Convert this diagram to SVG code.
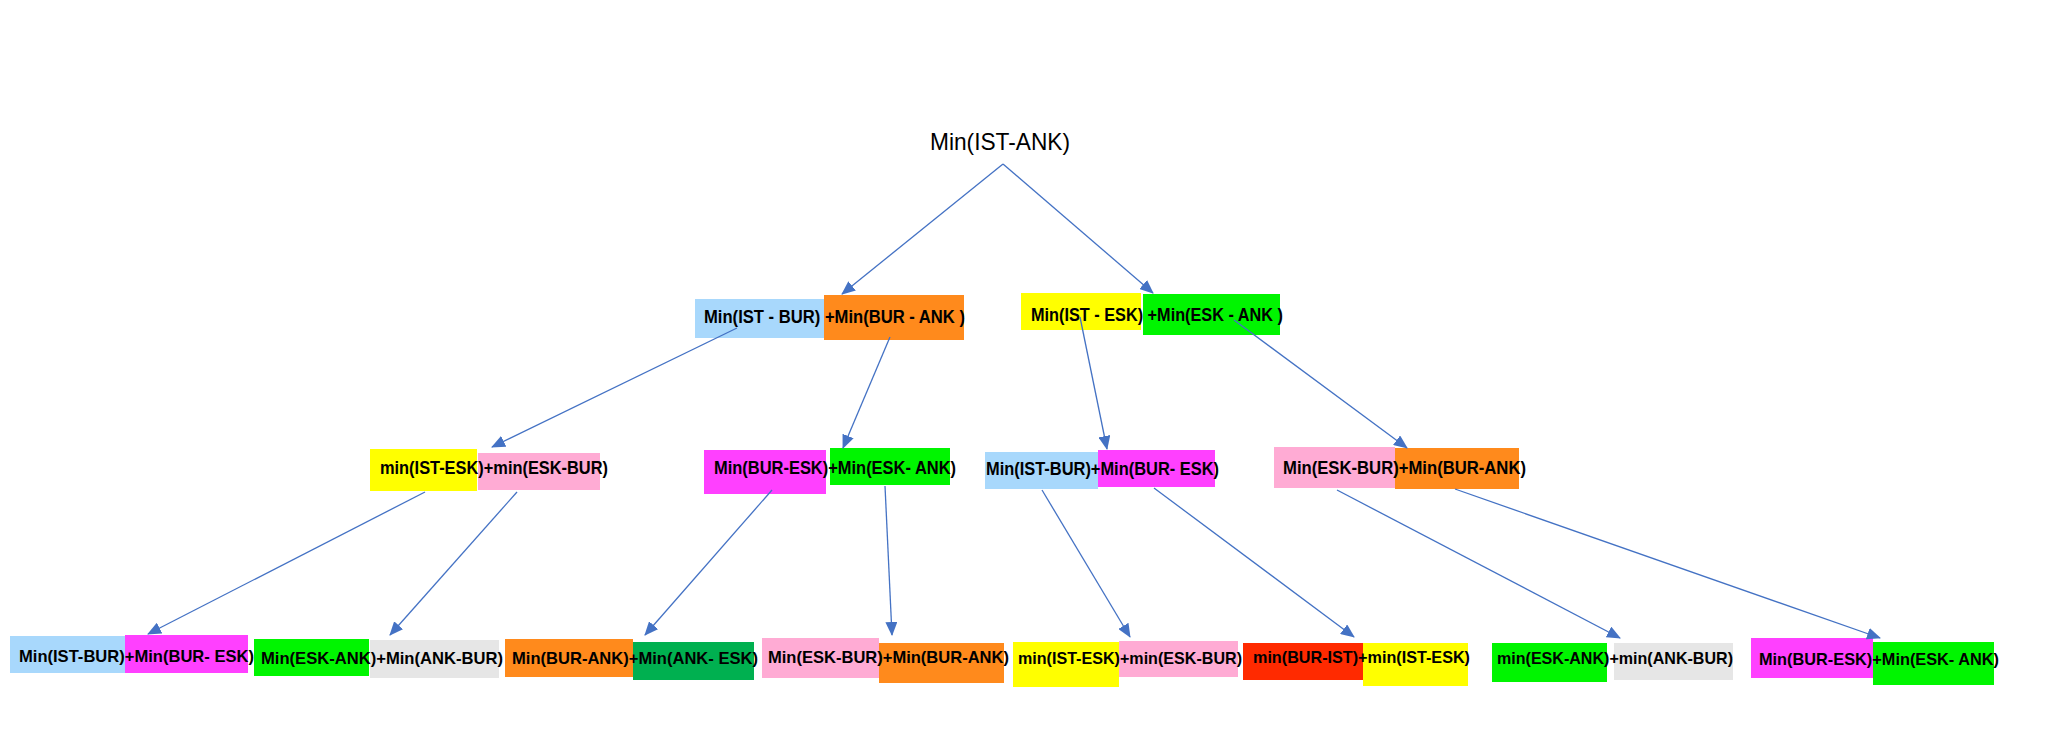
<svg xmlns="http://www.w3.org/2000/svg" width="2052" height="734" viewBox="0 0 2052 734">
<style>
.bg{fill:#ffffff}
.blue{fill:#A8D8FC}
.orange{fill:#FF8A1C}
.yellow{fill:#FFFF00}
.green{fill:#00F500}
.pink{fill:#FFABD4}
.magenta{fill:#FF40FF}
.gray{fill:#E6E6E6}
.dgreen{fill:#00B050}
.red{fill:#FF2A00}
.root{font-family:"Liberation Sans",Arial,sans-serif;font-size:24px;fill:#000}
.lbl{font-family:"Liberation Sans",Arial,sans-serif;font-weight:bold;font-size:18px;fill:#000}
.lbl3{font-family:"Liberation Sans",Arial,sans-serif;font-weight:bold;font-size:17px;fill:#000}
.edge{stroke:#4472C4;stroke-width:1.3;fill:none;marker-end:url(#arr)}
</style>
<defs>
<marker id="arr" markerUnits="userSpaceOnUse" markerWidth="14" markerHeight="12" refX="13" refY="6" orient="auto" viewBox="0 0 14 12">
<path d="M0,0 L14,6 L0,12 z" fill="#4472C4"/>
</marker>
</defs>
<rect class="bg" x="0" y="0" width="2052" height="734"/>

<g id="root">
<text class="root" x="930" y="150" textLength="140" lengthAdjust="spacingAndGlyphs">Min(IST-ANK)</text>
</g>

<g id="n1a">
<rect class="blue" x="695" y="299" width="129" height="39"/>
<rect class="orange" x="824" y="295" width="140" height="45"/>
<text class="lbl" x="704" y="323" textLength="261" lengthAdjust="spacingAndGlyphs">Min(IST - BUR) +Min(BUR - ANK )</text>
</g>
<g id="n1b">
<rect class="yellow" x="1021" y="293" width="120" height="37"/>
<rect class="green" x="1143" y="294" width="137" height="41"/>
<text class="lbl" x="1031" y="321" textLength="252" lengthAdjust="spacingAndGlyphs">Min(IST - ESK) +Min(ESK - ANK )</text>
</g>

<g id="n2a">
<rect class="yellow" x="370" y="449" width="107" height="42"/>
<rect class="pink" x="478" y="453" width="122" height="37"/>
<text class="lbl" x="380" y="474" textLength="228" lengthAdjust="spacingAndGlyphs">min(IST-ESK)+min(ESK-BUR)</text>
</g>
<g id="n2b">
<rect class="magenta" x="704" y="450" width="122" height="44"/>
<rect class="green" x="830" y="448" width="120" height="37"/>
<text class="lbl" x="714" y="474" textLength="242" lengthAdjust="spacingAndGlyphs">Min(BUR-ESK)+Min(ESK- ANK)</text>
</g>
<g id="n2c">
<rect class="blue" x="985" y="452" width="113" height="37"/>
<rect class="magenta" x="1098" y="450" width="117" height="37"/>
<text class="lbl" x="986" y="475" textLength="233" lengthAdjust="spacingAndGlyphs">Min(IST-BUR)+Min(BUR- ESK)</text>
</g>
<g id="n2d">
<rect class="pink" x="1274" y="447" width="121" height="41"/>
<rect class="orange" x="1395" y="448" width="124" height="41"/>
<text class="lbl" x="1283" y="474" textLength="243" lengthAdjust="spacingAndGlyphs">Min(ESK-BUR)+Min(BUR-ANK)</text>
</g>

<g id="n3a">
<rect class="blue" x="10" y="636" width="115" height="37"/>
<rect class="magenta" x="125" y="635" width="123" height="38"/>
<text class="lbl3" x="19" y="662" textLength="235" lengthAdjust="spacingAndGlyphs">Min(IST-BUR)+Min(BUR- ESK)</text>
</g>
<g id="n3b">
<rect class="green" x="254" y="639" width="115" height="37"/>
<rect class="gray" x="370" y="640" width="129" height="38"/>
<text class="lbl3" x="261" y="664" textLength="242" lengthAdjust="spacingAndGlyphs">Min(ESK-ANK)+Min(ANK-BUR)</text>
</g>
<g id="n3c">
<rect class="orange" x="505" y="639" width="128" height="38"/>
<rect class="dgreen" x="633" y="642" width="121" height="38"/>
<text class="lbl3" x="512" y="664" textLength="246" lengthAdjust="spacingAndGlyphs">Min(BUR-ANK)+Min(ANK- ESK)</text>
</g>
<g id="n3d">
<rect class="pink" x="762" y="638" width="117" height="40"/>
<rect class="orange" x="879" y="643" width="125" height="40"/>
<text class="lbl3" x="768" y="663" textLength="241" lengthAdjust="spacingAndGlyphs">Min(ESK-BUR)+Min(BUR-ANK)</text>
</g>
<g id="n3e">
<rect class="yellow" x="1013" y="642" width="106" height="45"/>
<rect class="pink" x="1119" y="641" width="119" height="36"/>
<text class="lbl3" x="1018" y="664" textLength="224" lengthAdjust="spacingAndGlyphs">min(IST-ESK)+min(ESK-BUR)</text>
</g>
<g id="n3f">
<rect class="red" x="1243" y="643" width="120" height="37"/>
<rect class="yellow" x="1363" y="643" width="105" height="43"/>
<text class="lbl3" x="1253" y="663" textLength="217" lengthAdjust="spacingAndGlyphs">min(BUR-IST)+min(IST-ESK)</text>
</g>
<g id="n3g">
<rect class="green" x="1492" y="643" width="115" height="39"/>
<rect class="gray" x="1614" y="643" width="119" height="37"/>
<text class="lbl3" x="1497" y="664" textLength="236" lengthAdjust="spacingAndGlyphs">min(ESK-ANK)+min(ANK-BUR)</text>
</g>
<g id="n3h">
<rect class="magenta" x="1751" y="638" width="122" height="40"/>
<rect class="green" x="1873" y="642" width="121" height="43"/>
<text class="lbl3" x="1759" y="665" textLength="240" lengthAdjust="spacingAndGlyphs">Min(BUR-ESK)+Min(ESK- ANK)</text>
</g>

<g id="connectors">
<line class="edge" x1="1003" y1="164" x2="842" y2="294"/>
<line class="edge" x1="1003" y1="164" x2="1153" y2="293"/>
<line class="edge" x1="737" y1="328" x2="492" y2="447"/>
<line class="edge" x1="890" y1="337" x2="843" y2="448"/>
<line class="edge" x1="1080" y1="317" x2="1107" y2="449"/>
<line class="edge" x1="1234" y1="320" x2="1407" y2="448"/>
<line class="edge" x1="425" y1="492" x2="148" y2="634"/>
<line class="edge" x1="517" y1="492" x2="390" y2="635"/>
<line class="edge" x1="772" y1="490" x2="645" y2="635"/>
<line class="edge" x1="885" y1="486" x2="892" y2="635"/>
<line class="edge" x1="1042" y1="490" x2="1130" y2="637"/>
<line class="edge" x1="1154" y1="488" x2="1354" y2="637"/>
<line class="edge" x1="1337" y1="490" x2="1620" y2="638"/>
<line class="edge" x1="1455" y1="489" x2="1880" y2="638"/>
</g>
</svg>
